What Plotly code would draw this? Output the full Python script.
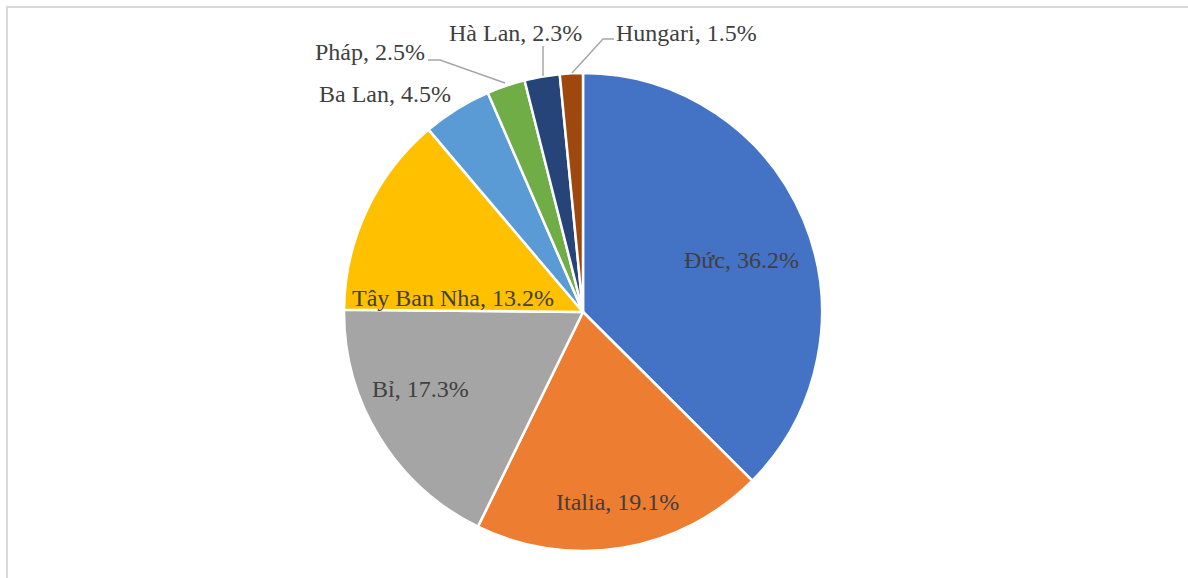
import plotly.graph_objects as go

# Export market shares (%)
countries = ["Đức", "Italia", "Bỉ", "Tây Ban Nha", "Ba Lan", "Pháp", "Hà Lan", "Hungari"]
shares = [36.2, 19.1, 17.3, 13.2, 4.5, 2.5, 2.3, 1.5]
colors = ["#4472C4", "#ED7D31", "#A5A5A5", "#FFC000", "#5B9BD5", "#70AD47", "#264478", "#9E480E"]

W, H = 1188, 578
CX, CY, R = 583, 312, 239

# Label centres in pixels (left, top origin)
label_xy = [(741, 260), (617, 502), (420, 389), (453, 298),
            (385, 94), (370, 52), (515, 33), (686, 33)]

# Leader lines for the small outside slices (pixel polylines)
leaders = [
    [(428, 60), (440, 60), (505, 83)],
    [(543, 46), (543, 76)],
    [(614, 39), (603, 39), (572, 73)],
]


def px(x):
    return x / W


def py(y):
    return 1 - y / H


fig = go.Figure(go.Pie(
    labels=countries,
    values=shares,
    sort=False,
    direction="clockwise",
    rotation=0,
    textinfo="none",
    hoverinfo="label+value",
    marker=dict(colors=colors, line=dict(color="#FFFFFF", width=2.5)),
    domain=dict(x=[px(CX - R), px(CX + R)], y=[py(CY + R), py(CY - R)]),
    showlegend=False,
))

for name, val, (lx, ly) in zip(countries, shares, label_xy):
    fig.add_annotation(
        x=px(lx), y=py(ly), xref="paper", yref="paper",
        text=f"{name}, {val:.1f}%", showarrow=False,
        xanchor="center", yanchor="middle",
        font=dict(family="Liberation Serif", size=24, color="#404040"),
    )

for pts in leaders:
    path = "M " + " L ".join(f"{px(x)},{py(y)}" for x, y in pts)
    fig.add_shape(type="path", path=path, xref="paper", yref="paper",
                  line=dict(color="#A6A6A6", width=1.5))

# Chart area frame (continues past the right and bottom edges)
fig.add_shape(type="rect", xref="paper", yref="paper",
              x0=px(7), y0=py(H + 20), x1=px(W + 20), y1=py(7),
              line=dict(color="#D9D9D9", width=2), fillcolor="rgba(0,0,0,0)")

fig.update_layout(
    width=W, height=H,
    margin=dict(l=0, r=0, t=0, b=0),
    paper_bgcolor="#FFFFFF",
    plot_bgcolor="#FFFFFF",
)

fig.write_html("out.html")
